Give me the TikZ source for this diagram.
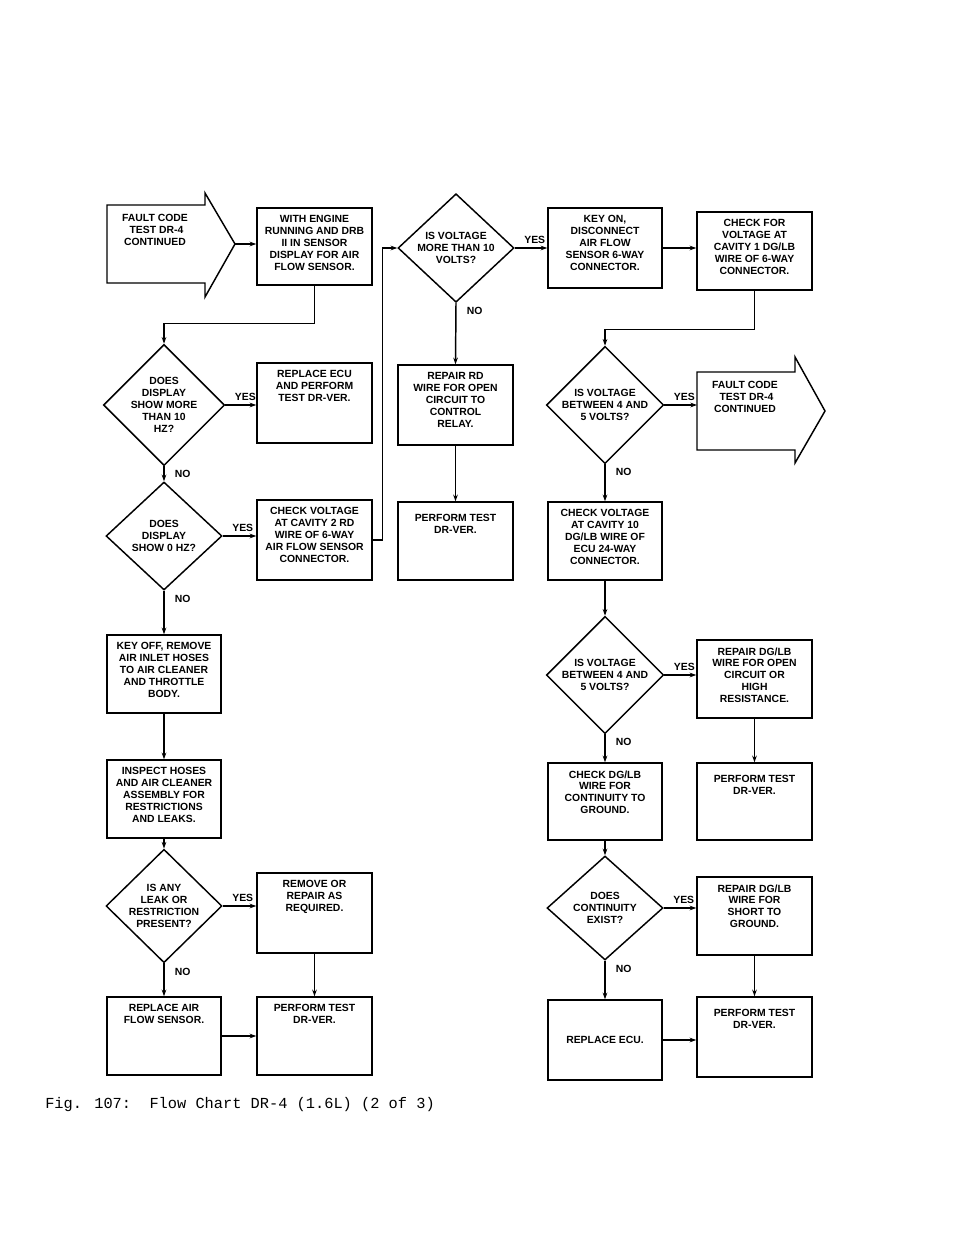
\documentclass[tikz,border=0pt]{standalone}
\usepackage{fontspec}
\setmainfont{Liberation Sans}
\newfontfamily\capfont{Liberation Mono}
\usetikzlibrary{shapes.geometric,arrows.meta}
\tikzset{
 box/.style={draw,line width=1.1pt,inner sep=0pt},
 txt/.style={font=\bfseries\fontsize{7.8}{8.9}\selectfont,align=center,inner sep=0pt},
 dia/.style={draw,line width=1.1pt,diamond,inner sep=0pt,font=\bfseries\fontsize{7.8}{8.9}\selectfont,align=center},
 arr/.style={line width=1.1pt,-{Stealth[length=5pt,width=3.5pt]}},
 ln/.style={line width=1.1pt},
 lab/.style={font=\bfseries\fontsize{7.8}{8.9}\selectfont,inner sep=1pt}
}
\newcommand\fcbox[6]{\node[box,minimum width={#4*0.75pt},minimum height={#5*0.75pt}] (#1) at (#2,#3) {};
 \node[txt,anchor=north] (#1t) at ([yshift=-6pt]#1.north) {#6};}
\newcommand\fcdia[6]{\node[dia,minimum width={#4*0.75pt},minimum height={#5*0.75pt}] (#1) at (#2,#3) {#6};}
\begin{document}
\begin{tikzpicture}[x=0.75pt,y=-0.75pt]
\useasboundingbox (0,0) rectangle (960,1242);
% arrow shapes
\draw[ln] (205,205) -- (107,205) -- (107,283) -- (205,283) -- (205,297) -- (235,244) -- (205,193) -- cycle;
\coordinate (a1) at (235,244);
\node[txt,anchor=north] (a1t) at (155,214) {FAULT CODE\\\ TEST DR-4\\CONTINUED};
\draw[ln] (795,372) -- (697,372) -- (697,450) -- (795,450) -- (795,463) -- (825,411) -- (795,357) -- cycle;
\coordinate (a2) at (697,411);
\node[txt,anchor=north] (a2t) at (745,381) {FAULT CODE\\\ TEST DR-4\\CONTINUED};
% boxes
\fcbox{b1}{314.5}{246.5}{115}{77}{WITH ENGINE\\RUNNING AND DRB\\II IN SENSOR\\DISPLAY FOR AIR\\FLOW SENSOR.}
\fcbox{r1}{314.5}{403}{115}{80}{REPLACE ECU\\AND PERFORM\\TEST DR-VER.}
\fcbox{b2}{314.5}{540}{115}{80}{CHECK VOLTAGE\\AT CAVITY 2 RD\\WIRE OF 6-WAY\\AIR FLOW SENSOR\\CONNECTOR.}
\fcbox{b3}{164}{674}{114}{78}{KEY OFF, REMOVE\\AIR INLET HOSES\\TO AIR CLEANER\\AND THROTTLE\\BODY.}
\fcbox{b4}{164}{799}{114}{78}{INSPECT HOSES\\AND AIR CLEANER\\ASSEMBLY FOR\\RESTRICTIONS\\AND LEAKS.}
\fcbox{b5}{314.5}{913}{115}{80}{REMOVE OR\\REPAIR AS\\REQUIRED.}
\fcbox{b6}{314.5}{1036}{115}{78}{PERFORM TEST\\DR-VER.}
\fcbox{b7}{164}{1036}{114}{78}{REPLACE AIR\\FLOW SENSOR.}
\fcbox{m1}{455.5}{405}{115}{80}{REPAIR RD\\WIRE FOR OPEN\\CIRCUIT TO\\CONTROL\\RELAY.}
\fcbox{m2}{455.5}{541}{115}{78}{\\PERFORM TEST\\DR-VER.}
\fcbox{k1}{605}{248}{114}{80}{KEY ON,\\DISCONNECT\\AIR FLOW\\SENSOR 6-WAY\\CONNECTOR.}
\fcbox{k2}{754.5}{251}{115}{78}{CHECK FOR\\VOLTAGE AT\\CAVITY 1 DG/LB\\WIRE OF 6-WAY\\CONNECTOR.}
\fcbox{k3}{605}{541}{114}{78}{CHECK VOLTAGE\\AT CAVITY 10\\DG/LB WIRE OF\\ECU 24-WAY\\CONNECTOR.}
\fcbox{k4}{754.5}{679}{115}{78}{REPAIR DG/LB\\WIRE FOR OPEN\\CIRCUIT OR\\HIGH\\RESISTANCE.}
\fcbox{k5}{605}{801.5}{114}{77}{CHECK DG/LB\\WIRE FOR\\CONTINUITY TO\\GROUND.}
\fcbox{k6}{754.5}{801.5}{115}{77}{\\PERFORM TEST\\DR-VER.}
\fcbox{k7}{754.5}{916}{115}{78}{REPAIR DG/LB\\WIRE FOR\\SHORT TO\\GROUND.}
\fcbox{k8}{754.5}{1037}{115}{80}{\\PERFORM TEST\\DR-VER.}
\node[box,minimum width={114*0.75pt},minimum height={80*0.75pt}] (k9) at (605,1040) {};
\node[txt] (k9t) at (k9) {REPLACE ECU.};
% diamonds
\fcdia{d1}{164}{405}{116}{106}{DOES\\DISPLAY\\SHOW MORE\\THAN 10\\HZ?}
\fcdia{d2}{164}{536}{116}{108}{DOES\\DISPLAY\\SHOW 0 HZ?}
\fcdia{d4}{164}{906}{116}{108}{IS ANY\\LEAK OR\\RESTRICTION\\PRESENT?}
\fcdia{d3}{456}{248}{116}{100}{IS VOLTAGE\\MORE THAN 10\\VOLTS?}
\fcdia{d5}{605}{405}{116}{106}{IS VOLTAGE\\BETWEEN 4 AND\\5 VOLTS?}
\fcdia{d6}{605}{675}{116}{96}{IS VOLTAGE\\BETWEEN 4 AND\\5 VOLTS?}
\fcdia{d7}{605}{908}{116}{104}{DOES\\CONTINUITY\\EXIST?}
% connectors
\draw[arr] (a1) -- (a1 -| b1.west);
\draw[arr] (b1.south) -- ++(0,38) -| (d1.north);
\draw[arr] (d1.east) -- (d1.east -| r1.west);
\draw[arr] (d1.south) -- (d2.north);
\draw[arr] (d2.east) -- (d2.east -| b2.west);
\draw[arr] (b2.east) -- ++(10,0) |- (d3.west);
\draw[arr] (d2.south) -- (b3.north);
\draw[arr] (b3.south) -- (b4.north);
\draw[arr] (b4.south) -- (d4.north);
\draw[arr] (d4.east) -- (d4.east -| b5.west);
\draw[arr] (b5.south) -- (b6.north);
\draw[arr] (d4.south) -- (b7.north);
\draw[arr] (b7.east) -- (b6.west);
\draw[arr] (d3.east) -- (d3.east -| k1.west);
\draw[arr] (k1.east) -- (k1.east -| k2.west);
\draw[arr] (d3.south) -- (m1.north);
\draw[arr] (m1.south) -- (m2.north);
\draw[arr] (k2.south) -- ++(0,39) -| (d5.north);
\draw[arr] (d5.east) -- (d5.east -| a2);
\draw[arr] (d5.south) -- (k3.north);
\draw[arr] (k3.south) -- (d6.north);
\draw[arr] (d6.east) -- (d6.east -| k4.west);
\draw[arr] (k4.south) -- (k6.north);
\draw[arr] (d6.south) -- (k5.north);
\draw[arr] (k5.south) -- (d7.north);
\draw[arr] (d7.east) -- (d7.east -| k7.west);
\draw[arr] (k7.south) -- (k8.north);
\draw[arr] (d7.south) -- (k9.north);
\draw[arr] (k9.east) -- (k9.east -| k8.west);
% labels
\foreach \d in {d1,d2,d3,d4,d5,d6,d7}{
 \node[lab,anchor=south west] (\d y) at ([xshift=6pt,yshift=2pt]\d.east) {YES};
 \node[lab,anchor=north west] (\d n) at ([xshift=7pt,yshift=-2pt]\d.south) {NO};
}
\node[anchor=west,inner sep=0pt,font=\capfont\fontsize{11.5}{12}\selectfont] (cap) at (45,1105) {Fig. 107:\ \ Flow Chart DR-4 (1.6L) (2 of 3)};
\end{tikzpicture}
\end{document}
